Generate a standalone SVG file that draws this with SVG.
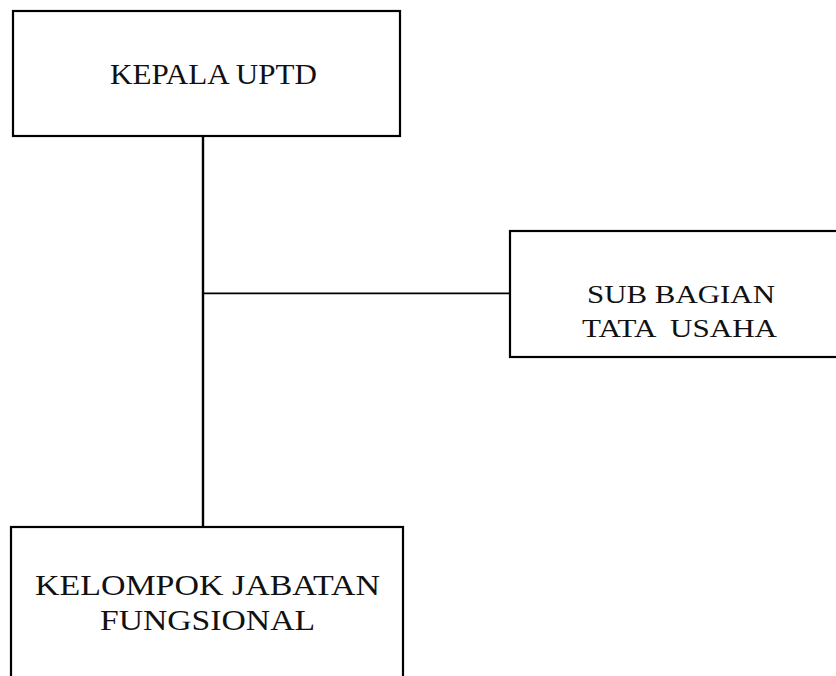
<svg xmlns="http://www.w3.org/2000/svg" width="836" height="676" viewBox="0 0 836 676">
<style>
.box{fill:#fff;stroke:#000;stroke-width:2.2}
.t{font-family:"Liberation Serif","DejaVu Serif",serif;fill:#111}
.c{stroke:#000;fill:none}
</style>
<rect width="836" height="676" fill="#fff"/>
<g id="connectors">
<line class="c" x1="203" y1="136" x2="203" y2="527" stroke-width="2.4"/>
<line class="c" x1="203" y1="293.3" x2="510" y2="293.3" stroke-width="1.8"/>
</g>
<g id="kepala">
<rect class="box" x="13" y="11" width="387" height="125"/>
<text class="t" x="110" y="84" font-size="28.5" textLength="207" lengthAdjust="spacingAndGlyphs">KEPALA UPTD</text>
</g>
<g id="subbagian">
<rect class="box" x="510" y="231" width="340" height="126"/>
<text class="t" x="587" y="303" font-size="26" textLength="188" lengthAdjust="spacingAndGlyphs">SUB BAGIAN</text>
<text class="t" x="582" y="337" font-size="26" textLength="195" lengthAdjust="spacingAndGlyphs" xml:space="preserve">TATA  USAHA</text>
</g>
<g id="kelompok">
<rect class="box" x="11" y="527" width="392" height="160"/>
<text class="t" x="35" y="595" font-size="30" textLength="345" lengthAdjust="spacingAndGlyphs">KELOMPOK JABATAN</text>
<text class="t" x="100" y="630" font-size="30" textLength="215" lengthAdjust="spacingAndGlyphs">FUNGSIONAL</text>
</g>
</svg>
